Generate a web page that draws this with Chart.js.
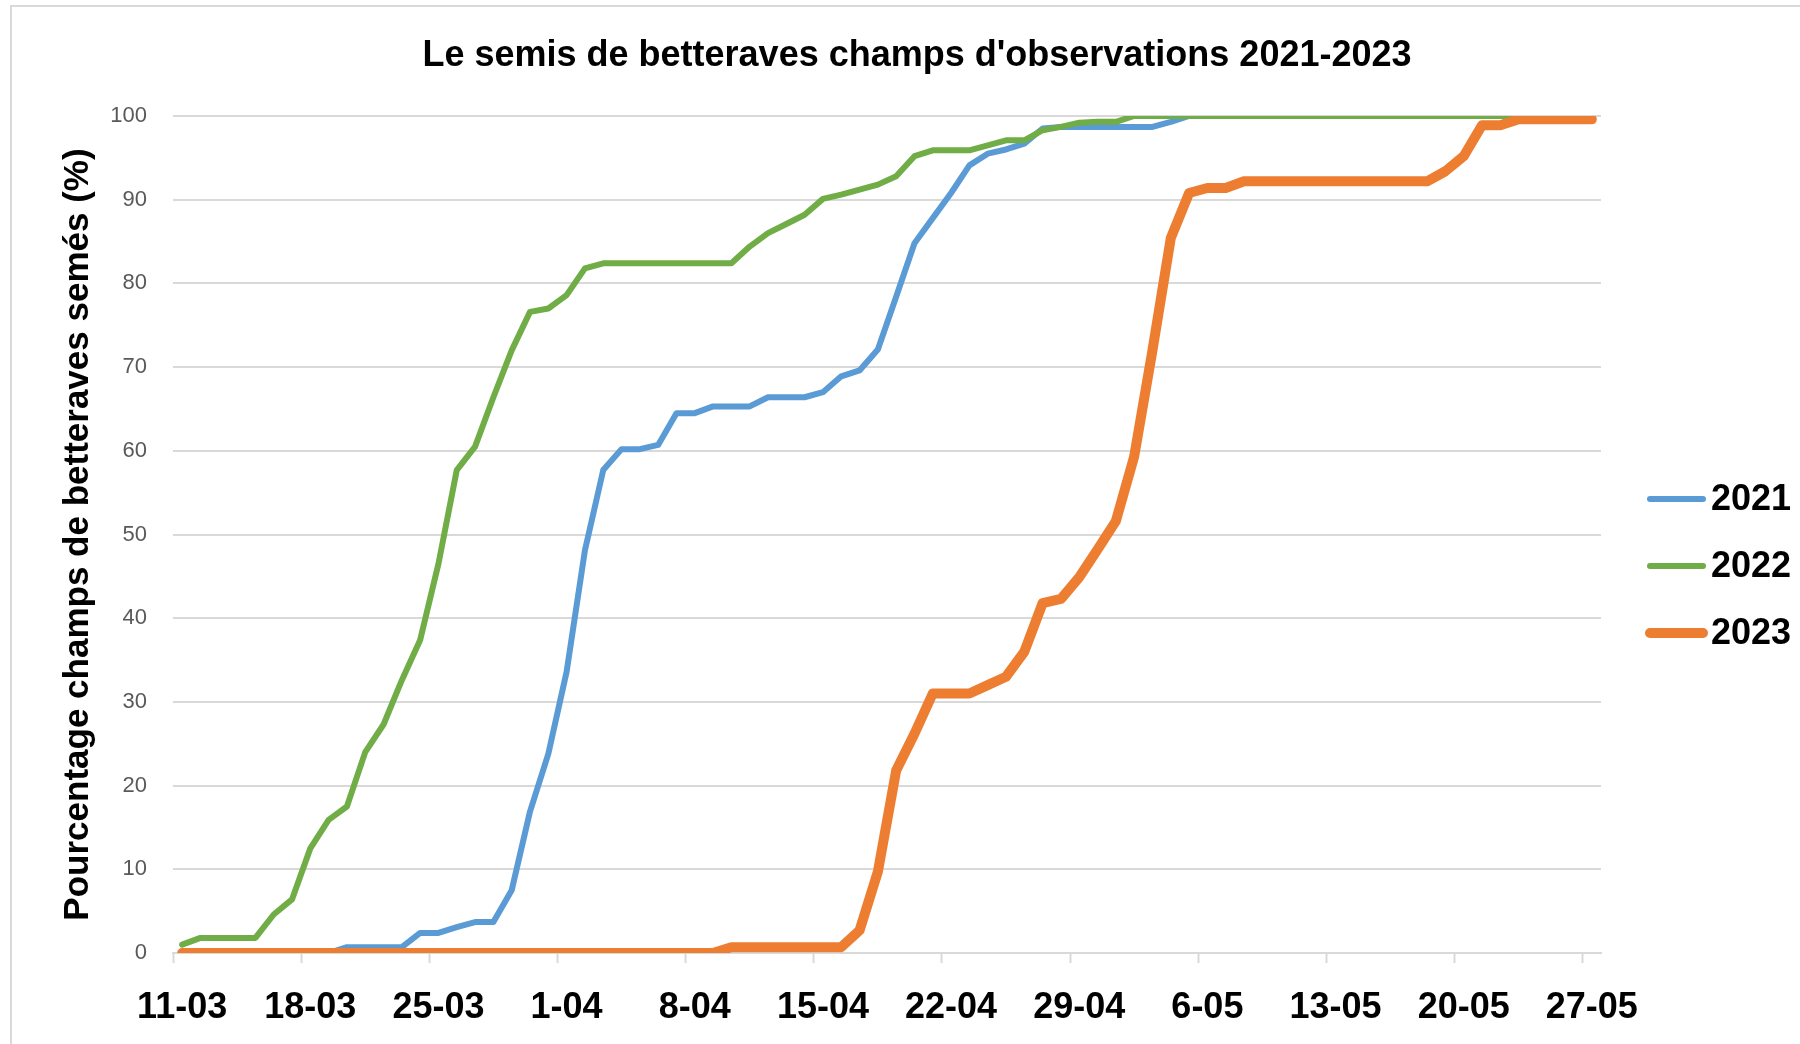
<!DOCTYPE html>
<html>
<head>
<meta charset="utf-8">
<title>Le semis de betteraves champs d'observations 2021-2023</title>
<script src="https://cdn.jsdelivr.net/npm/chart.js@4.4.1/dist/chart.umd.min.js"></script>
<style>
  html, body { margin: 0; padding: 0; background: #fff; overflow: hidden; }
  #frame {
    position: absolute; left: 10px; top: 5px; width: 1900px; height: 1100px;
    border-left: 2px solid #d9d9d9; border-top: 2px solid #d9d9d9;
  }
  #wrap { position: absolute; left: 0; top: 0; width: 1800px; height: 1044px; }
</style>
</head>
<body>
<div id="frame"></div>
<div id="wrap"><canvas id="chart"></canvas></div>
<script>
// === Data ===
const chartTitle = "Le semis de betteraves champs d'observations 2021-2023";
const seriesNames = ["2021", "2022", "2023"];
const seriesColors = ["#5b9bd5", "#70ad47", "#ed7d31"];

// one category per day, 11-03 .. 27-05
const dayRanges = [[3, 11, 31], [4, 1, 30], [5, 1, 27]];
const days = [];
dayRanges.forEach(([m, from, to]) => {
  for (let d = from; d <= to; d++) days.push(`${d}-${String(m).padStart(2, "0")}`);
});

const values2021 = [
  0, 0, 0, 0, 0, 0, 0, 0, 0,
  0.7, 0.7, 0.7, 0.7,
  2.4, 2.4, 3.1, 3.7, 3.7, 7.5, 16.9, 23.8, 33.6, 48.1,
  57.7, 60.2, 60.2, 60.7, 64.5, 64.5, 65.3, 65.3, 65.3, 66.4,
  66.4, 66.4, 67.0, 68.9, 69.6, 72.1, 78.4, 84.8, 87.8, 90.8,
  94.1, 95.5, 96.0, 96.7, 98.5, 98.7, 98.7, 98.7, 98.7, 98.7,
  98.7, 99.3, 100, 100, 100, 100, 100, 100, 100, 100,
  100, 100, 100, 100, 100, 100, 100, 100, 100, 100, 100, 100, 100, 100, 100
];

const values2022 = [
  1.0, 1.8, 1.8, 1.8, 1.8, 4.6, 6.4, 12.5, 15.9, 17.5,
  24.0, 27.3, 32.6, 37.4, 46.5, 57.7, 60.5, 66.4, 72.0, 76.6,
  77.0, 78.6, 81.8, 82.4, 82.4, 82.4, 82.4, 82.4, 82.4, 82.4,
  82.4, 84.4, 86.0, 87.1, 88.2, 90.1, 90.6, 91.2, 91.8, 92.8,
  95.2, 95.9, 95.9, 95.9, 96.5, 97.1, 97.1, 98.3, 98.7, 99.2,
  99.3, 99.3, 100, 100, 100, 100, 100, 100, 100, 100,
  100, 100, 100, 100, 100, 100, 100, 100, 100, 100,
  100, 100, 100, 100, 100, 100, 100, 100
];

const values2023 = [
  0, 0, 0, 0, 0, 0, 0, 0, 0, 0,
  0, 0, 0, 0, 0, 0, 0, 0, 0, 0,
  0, 0, 0, 0, 0, 0, 0, 0, 0, 0,
  0.7, 0.7, 0.7, 0.7, 0.7, 0.7, 0.7,
  2.7, 9.7, 21.8, 26.2, 31.0, 31.0, 31.0, 32.0, 33.0, 36.0,
  41.8, 42.3, 44.9, 48.2, 51.6, 59.3, 72.0, 85.4, 90.8, 91.4,
  91.4, 92.2, 92.2, 92.2, 92.2, 92.2, 92.2, 92.2, 92.2, 92.2, 92.2, 92.2,
  93.4, 95.2, 98.9, 98.9, 99.6, 99.6, 99.6, 99.6, 99.6
];

const seriesValues = [values2021, values2022, values2023];
const lineWidths = [6, 6, 10];

const FONT = '"Liberation Sans", Arial, sans-serif';

// === Title (centred on the whole Excel frame, not on the plot) ===
const frameTitle = {
  id: "frameTitle",
  afterDraw(chart) {
    const ctx = chart.ctx;
    ctx.save();
    ctx.font = `bold 36px ${FONT}`;
    ctx.textAlign = "center";
    ctx.textBaseline = "middle";
    ctx.fillStyle = "#000";
    ctx.fillText(chartTitle, 917, 56);
    ctx.restore();
  }
};

// === Legend on the right ===
const sideLegend = {
  id: "sideLegend",
  afterDraw(chart) {
    const ctx = chart.ctx;
    ctx.save();
    ctx.font = `bold 36px ${FONT}`;
    ctx.textBaseline = "middle";
    ctx.fillStyle = "#000";
    chart.data.datasets.forEach((ds, i) => {
      const y = 499 + i * 67;
      ctx.strokeStyle = ds.borderColor;
      ctx.lineWidth = ds.borderWidth;
      ctx.lineCap = "round";
      ctx.beginPath();
      ctx.moveTo(1650, y);
      ctx.lineTo(1703, y);
      ctx.stroke();
      ctx.fillText(ds.label, 1711, y + 1);
    });
    ctx.restore();
  }
};

// === Chart ===
new Chart(document.getElementById("chart"), {
  type: "line",
  data: {
    labels: days,
    datasets: seriesNames.map((name, i) => ({
      label: name,
      data: seriesValues[i],
      borderColor: seriesColors[i],
      backgroundColor: seriesColors[i],
      borderWidth: lineWidths[i],
      borderJoinStyle: "round",
      borderCapStyle: "round",
      pointRadius: 0,
      tension: 0,
      fill: false,
      order: 3 - i
    }))
  },
  options: {
    responsive: true,
    maintainAspectRatio: false,
    animation: false,
    devicePixelRatio: 1,
    layout: { padding: { left: 0, right: 199, top: 116, bottom: 0 } },
    plugins: {
      legend: { display: false },
      tooltip: { enabled: false },
      title: { display: false }
    },
    scales: {
      x: {
        type: "category",
        offset: true,
        afterFit: scale => { scale.height = 91; },
        grid: {
          offset: true,
          drawOnChartArea: false,
          drawTicks: true,
          tickLength: 10,
          tickWidth: 2,
          tickColor: c => (c.index % 7 === 0 ? "#d9d9d9" : "rgba(0,0,0,0)")
        },
        border: { display: true, color: "#d9d9d9", width: 2 },
        ticks: {
          autoSkip: false,
          maxRotation: 0,
          minRotation: 0,
          padding: 23,
          color: "#000",
          font: { family: FONT, size: 36, weight: "bold" },
          callback: (v, idx) => (idx % 7 === 0 ? days[idx] : "")
        }
      },
      y: {
        min: 0,
        max: 100,
        afterFit: scale => { scale.width = 173; },
        grid: { color: "#d9d9d9", lineWidth: 2, drawTicks: false },
        border: { display: false },
        ticks: {
          stepSize: 10,
          padding: 26,
          color: "#595959",
          font: { family: FONT, size: 22 }
        },
        title: {
          display: true,
          text: "Pourcentage champs de betteraves semés (%)",
          color: "#000",
          font: { family: FONT, size: 35, weight: "bold", lineHeight: 1.2 },
          padding: { top: 57, bottom: 0 }
        }
      }
    }
  },
  plugins: [frameTitle, sideLegend]
});
</script>
</body>
</html>
